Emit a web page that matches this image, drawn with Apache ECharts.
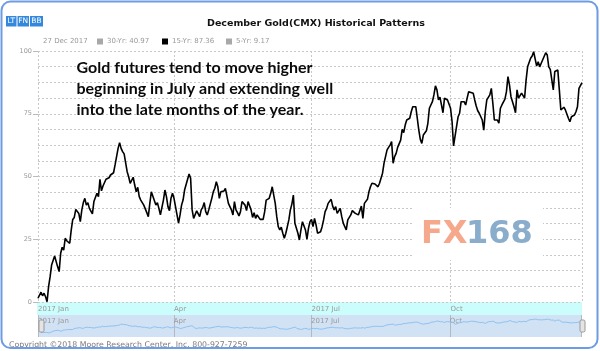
<!DOCTYPE html>
<html>
<head>
<meta charset="UTF-8">
<title>December Gold(CMX) Historical Patterns</title>
<style>
  html, body { margin: 0; padding: 0; background: #fff; }
  #chart { width: 600px; height: 351px; }
</style>
<script src="https://cdn.jsdelivr.net/npm/echarts@6.0.0/dist/echarts.min.js"></script>
</head>
<body>
<div id="chart"></div>
<script>
  // days counted from 1 Jan 2017
  var days = [0, 2, 3, 4, 5, 6, 7, 8, 9, 11, 12, 13, 14, 15, 16, 17, 18, 19, 21, 22, 23, 24, 25, 26, 27, 28, 29, 30,
    31, 32, 33, 34, 36, 37, 38, 39, 40, 41, 42, 43, 44, 45, 47, 48, 50, 51, 52, 53, 54, 55, 56, 57, 59, 60, 61, 63,
    64, 65, 66, 67, 68, 69, 70, 72, 73, 74, 75, 76, 78, 79, 80, 81, 83, 84, 85, 86, 87, 88, 89, 90, 92, 93, 94, 95,
    96, 97, 99, 100, 101, 102, 103, 104, 105, 106, 107, 108, 109, 110, 111, 112, 113, 115, 116, 117, 118, 119, 120,
    121, 122, 123, 124, 126, 127, 128, 129, 130, 131, 132, 133, 134, 135, 137, 138, 139, 140, 141, 142, 143, 144, 145,
    147, 148, 149, 150, 151, 152, 153, 154, 155, 157, 158, 159, 160, 161, 162, 163, 164, 165, 166, 167, 168, 169, 170,
    172, 173, 174, 175, 176, 177, 178, 179, 180, 181, 182, 183, 184, 185, 186, 187, 188, 189, 190, 191, 192, 194, 195,
    196, 197, 198, 199, 200, 201, 202, 204, 205, 206, 207, 208, 209, 210, 211, 212, 214, 215, 216, 218, 219, 220, 221,
    222, 223, 224, 225, 226, 227, 228, 229, 231, 232, 233, 234, 235, 236, 237, 238, 239, 240, 241, 242, 243, 244, 246,
    247, 248, 249, 250, 251, 252, 253, 254, 255, 257, 258, 259, 261, 262, 263, 264, 265, 266, 267, 268, 269, 270, 271,
    273, 274, 275, 277, 278, 279, 280, 281, 282, 283, 284, 285, 286, 288, 289, 290, 291, 292, 293, 294, 295, 296, 297,
    298, 299, 300, 301, 302, 303, 304, 305, 306, 307, 309, 310, 311, 312, 313, 315, 316, 317, 318, 319, 320, 321, 322,
    323, 324, 326, 327, 328, 329, 330, 331, 332, 333, 334, 336, 337, 338, 339, 340, 341, 342, 343, 344, 345, 346, 347,
    348, 349, 351, 352, 353, 354, 355, 356, 357, 358, 360];
  var pattern15 = [1.5, 3.9, 2.5, 3.5, 2.1, 0.1, 6.1, 10, 14.7, 18.3, 17.8, 14, 12.1, 19.4, 21.8, 20.7, 25.4, 24.4,
    23.4, 28.7, 32.9, 33.7, 36.9, 37.3, 35.3, 32, 36.7, 39.6, 41.3, 38.6, 39.6, 37.3, 35.1, 40, 40.6, 43.3, 42, 48.9,
    44.3, 46.2, 45.9, 48.9, 49.5, 50.6, 51.5, 54.6, 55.3, 61.2, 63.5, 61.2, 59.9, 59, 51.9, 49.9, 47.3, 49.7, 46.6,
    43.9, 45.7, 42, 40.6, 41.3, 38.6, 35.6, 34, 39.3, 43.9, 43.7, 38.6, 39.6, 37.3, 34.7, 40.6, 44.6, 42, 38, 36.4,
    41.3, 43.3, 41.3, 34.7, 31.4, 34.7, 38.6, 40.6, 44.6, 48.9, 51, 49.3, 36.7, 33.3, 32.7, 36.3, 36, 34, 36.7, 37.7,
    39.6, 36, 34.7, 36.7, 41.3, 43.9, 45.3, 47.9, 45.9, 41.3, 43.9, 43.3, 44.2, 45.3, 39.3, 38, 36.7, 34.7, 40, 36.7,
    35.6, 34.3, 36, 40, 38.6, 36.4, 40, 40.4, 36.7, 33.7, 35.6, 33.3, 34.7, 32.9, 33.3, 32.9, 36, 40.6, 40, 41.3, 43.3,
    45.9, 39.3, 34, 30, 28.7, 29.8, 27.4, 25.4, 27.4, 30, 32.7, 36.7, 39, 42.6, 31.4, 27.4, 24.7, 28.7, 32, 32.4, 28.7,
    25, 29.4, 32, 32.9, 30, 33.3, 30.7, 27.4, 27.1, 28, 30, 32.7, 36, 37.3, 39.3, 40.9, 38.2, 36.7, 38, 35.3, 36, 37.3,
    34, 31.4, 28.7, 32.7, 32.7, 34.7, 36.4, 36, 35.3, 36, 34.7, 38.2, 33.3, 39.3, 40.9, 43.9, 45.9, 47.3, 47.9, 47,
    47.5, 45.9, 47.3, 46.6, 51.3, 55.3, 60.6, 61.6, 62.5, 63.9, 55.3, 57.9, 59.2, 61.6, 62.2, 64.5, 68.8, 67.5, 70.5,
    72.5, 73.2, 75.8, 77.8, 77.2, 77.8, 73.2, 68.5, 64.8, 63.2, 66.5, 68.2, 71.2, 77.2, 79.8, 82.5, 86.1, 84.5, 80.5,
    81.6, 78.5, 75.4, 81.2, 80.8, 80.5, 77.2, 72, 62.2, 70, 73.8, 75.2, 79.8, 80.1, 79.8, 78.5, 81.2, 83.8, 84.2, 83.2,
    80.5, 78.1, 76.2, 75.2, 75.8, 72.5, 68.5, 75.8, 80.5, 81.2, 82.5, 85.1, 79.2, 72.5, 71.8, 72.5, 71.2, 77.2, 78.5,
    80.8, 83.8, 89.8, 86.5, 81.8, 77.8, 75.4, 84.5, 81.2, 80.5, 83.2, 82.9, 81.2, 88.4, 93.7, 97.1, 98, 99.7, 99.1, 94,
    95.7, 93.7, 95.1, 95.7, 99.3, 98.4, 93.7, 92.7, 93.1, 84.5, 91.8, 92.2, 92.4, 84.5, 76.5, 77.2, 77.6, 76.5, 73.2,
    71.8, 73.8, 74.1, 74.5, 75.8, 77.8, 85.1, 87.36];
  var legendDate = '27 Dec 2017';
  var legendNames = ['30-Yr: 40.97', '15-Yr: 87.36', '5-Yr: 9.17'];
  var legendColors = ['#a8a8a8', '#000000', '#a8a8a8'];
  var monthNames = ['Jan', 'Feb', 'Mar', 'Apr', 'May', 'Jun', 'Jul', 'Aug', 'Sep', 'Oct', 'Nov', 'Dec'];
  var note = 'Gold futures tend to move higher\nbeginning in July and extending well\ninto the late months of the year.';

  var seriesData = days.map(function (d, i) {
    return [new Date(2017, 0, 1 + d).getTime(), pattern15[i]];
  });
  var xMin = new Date(2017, 0, 1).getTime();
  var xMax = new Date(2017, 11, 27).getTime();

  function monthLabel(val) {
    var d = new Date(val);
    var m = d.getMonth();
    return (m % 6 === 0 ? d.getFullYear() + ' ' : '') + monthNames[m];
  }

  var small = 'DejaVu Sans';
  var graphics = [];

  // legend row
  graphics.push({ type: 'text', x: 43, y: 41.5, silent: true,
    style: { text: legendDate, fill: '#999', font: '7px ' + small, verticalAlign: 'middle' } });
  var lx = [97, 162, 226];
  legendNames.forEach(function (name, i) {
    graphics.push({ type: 'rect', silent: true, shape: { x: lx[i], y: 38.5, width: 6, height: 6 },
      style: { fill: legendColors[i] } });
    graphics.push({ type: 'text', x: lx[i] + 10, y: 41.5, silent: true,
      style: { text: name, fill: '#999', font: '7px ' + small, verticalAlign: 'middle' } });
  });

  // LT FN BB badges
  [['LT', 6, 10.5], ['FN', 17.5, 11.5], ['BB', 30, 13]].forEach(function (b) {
    graphics.push({ type: 'rect', silent: true, shape: { x: b[1], y: 16, width: b[2], height: 10.5 },
      style: { fill: '#3388de' } });
    graphics.push({ type: 'text', x: b[1] + b[2] / 2, y: 21.5, silent: true,
      style: { text: b[0], fill: '#fff', font: '7.5px ' + small, align: 'center', verticalAlign: 'middle' } });
  });

  // cyan band under the plot
  graphics.push({ type: 'rect', silent: true, z: -10, shape: { x: 37, y: 302, width: 545, height: 13 },
    style: { fill: '#ccfdfd' } });

  // watermark
  graphics.push({ type: 'rect', silent: true, z: 1, shape: { x: 413, y: 208, width: 130, height: 52 },
    style: { fill: '#fff' } });
  graphics.push({ type: 'text', x: 421, y: 234.5, silent: true, z: 1,
    style: { text: 'FX', fill: '#f5a88b', font: 'bold 32px ' + small, verticalAlign: 'middle' } });
  graphics.push({ type: 'text', x: 466, y: 234.5, silent: true, z: 1,
    style: { text: '168', fill: '#8aadcc', font: 'bold 32px ' + small, verticalAlign: 'middle' } });

  // annotation
  graphics.push({ type: 'text', x: 76.5, y: 57, silent: true, z: 3,
    style: { text: note, fill: '#0a0a0a', font: 'bold 16px Lato', lineHeight: 21 } });

  // copyright
  graphics.push({ type: 'text', x: 9, y: 344.5, silent: true,
    style: { text: 'Copyright \u00a92018 Moore Research Center, Inc. 800-927-7259', fill: '#7a7a7a',
      font: '7.8px ' + small, verticalAlign: 'middle' } });

  // rounded frame
  graphics.push({ type: 'rect', silent: true, z: 100, shape: { x: 1.5, y: 1.5, width: 596, height: 346.5, r: 9 },
    style: { fill: null, stroke: '#6e9be6', lineWidth: 2 } });

  var chart = echarts.init(document.getElementById('chart'));
  chart.setOption({
    backgroundColor: '#fff',
    animation: false,
    title: {
      text: 'December Gold(CMX) Historical Patterns',
      left: 202, top: 14,
      textStyle: { fontFamily: small, fontWeight: 'bold', fontSize: 9.5, color: '#111' }
    },
    grid: [
      { left: 38, right: 18, top: 51, height: 251 },
      { left: 38, right: 19, top: 315, height: 22, show: true, backgroundColor: '#d1e2f4', borderWidth: 0 }
    ],
    xAxis: [{
      type: 'time', gridIndex: 0, min: xMin, max: xMax, splitNumber: 3,
      axisLine: { show: false },
      axisTick: { show: false },
      axisLabel: { formatter: monthLabel, align: 'left', margin: 4, color: '#999', fontSize: 7, fontFamily: small,
        showMaxLabel: false },
      splitLine: { show: true, lineStyle: { color: '#c8c8c8', type: [2, 2], width: 1 } }
    }, {
      type: 'time', gridIndex: 1, min: xMin, max: xMax, splitNumber: 3, position: 'top',
      axisLine: { show: false },
      axisTick: { show: false },
      axisLabel: { inside: true, formatter: monthLabel, align: 'left', margin: 3, color: '#999', fontSize: 7,
        fontFamily: small, showMaxLabel: false },
      splitLine: { show: true, lineStyle: { color: '#b4b8bf', width: 1 } }
    }],
    yAxis: [{
      type: 'value', gridIndex: 0, min: 0, max: 100, interval: 25,
      axisLine: { show: false },
      axisTick: { show: true, length: 5, lineStyle: { color: '#bbb' } },
      axisLabel: { color: '#999', fontSize: 6.5, fontFamily: small, margin: 6 },
      splitLine: { lineStyle: { color: '#c8c8c8', type: [2, 2] } },
      minorTick: { show: false, splitNumber: 4 },
      minorSplitLine: { show: true, lineStyle: { color: '#c8c8c8', type: [2, 2] } }
    }, {
      type: 'value', gridIndex: 1, show: false
    }],
    dataZoom: [{
      type: 'slider', xAxisIndex: 0, start: 0, end: 100,
      left: 38, right: 19, top: 315, height: 22,
      backgroundColor: 'rgba(0,0,0,0)', fillerColor: 'rgba(0,0,0,0)', borderColor: 'rgba(0,0,0,0)',
      showDetail: false, brushSelect: false, moveHandleSize: 0,
      handleIcon: 'path://M1.5,0 h2 a1.5,1.5 0 0 1 1.5,1.5 v9 a1.5,1.5 0 0 1 -1.5,1.5 h-2 a1.5,1.5 0 0 1 -1.5,-1.5 v-9 a1.5,1.5 0 0 1 1.5,-1.5 z',
      handleSize: 12,
      handleStyle: { color: '#e4e4e4', borderColor: '#999', borderWidth: 1 },
      dataBackground: { lineStyle: { color: '#8ec0ef', width: 1, opacity: 1 }, areaStyle: { opacity: 0 } },
      selectedDataBackground: { lineStyle: { color: '#8ec0ef', width: 1, opacity: 1 }, areaStyle: { opacity: 0 } }
    }],
    series: [{
      name: '15-Yr', type: 'line', xAxisIndex: 0, yAxisIndex: 0,
      data: seriesData, showSymbol: false, symbol: 'none',
      lineStyle: { color: '#000', width: 1.6 },
      z: 2
    }],
    graphic: graphics
  });
</script>
</body>
</html>
